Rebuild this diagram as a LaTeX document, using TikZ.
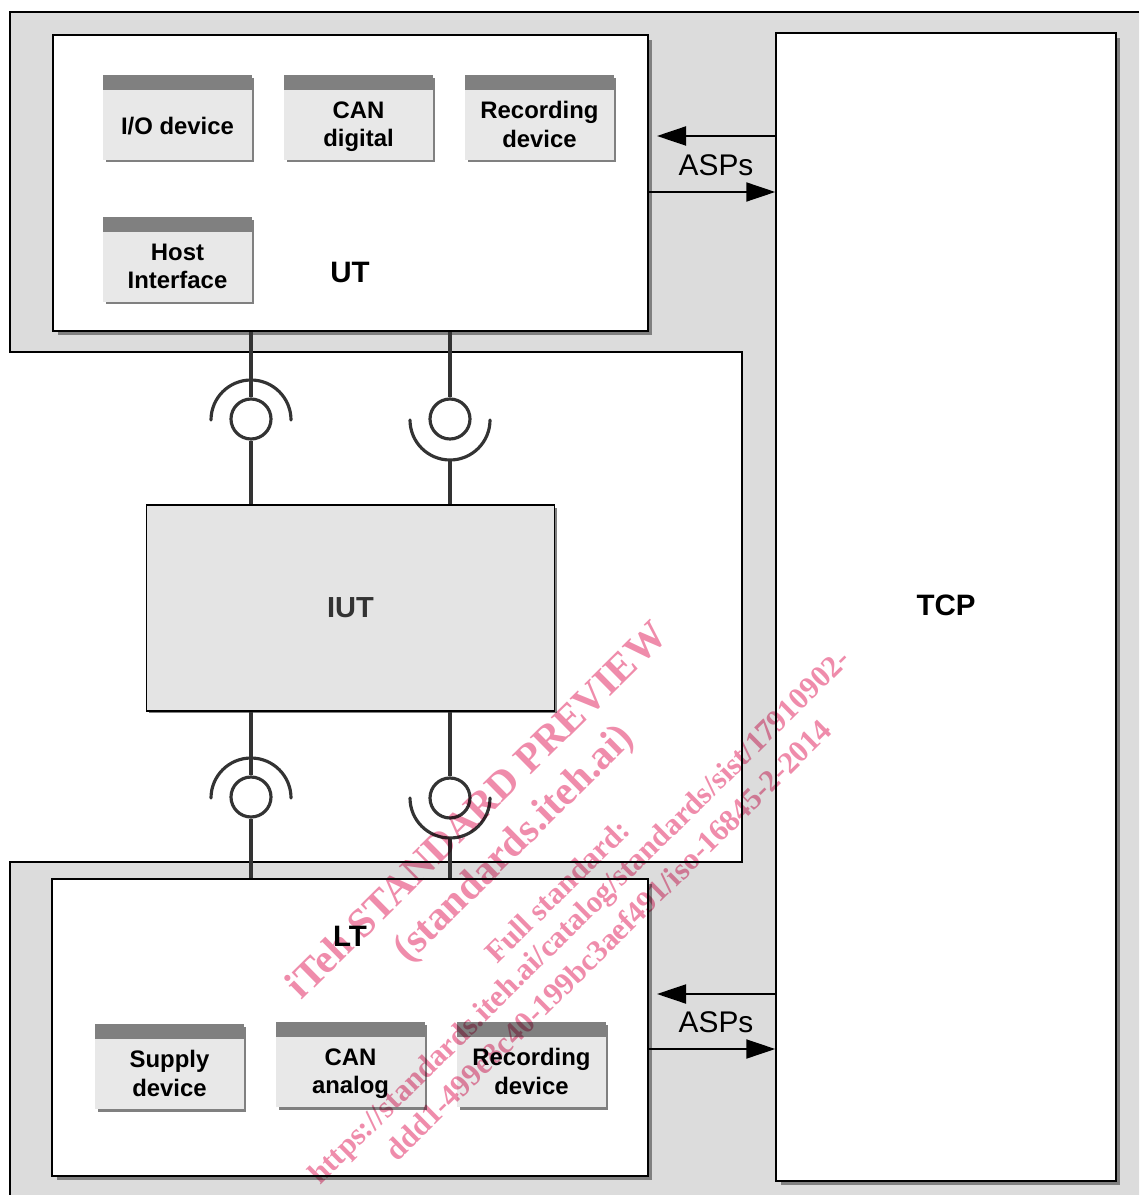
\documentclass[tikz,border=0pt]{standalone}
\usepackage{fontspec}
\setmainfont{Liberation Sans}
\newfontfamily\markfont{Liberation Serif}
\usepackage{tikz}
\usetikzlibrary{positioning, arrows.meta, shadows}

\definecolor{zonegrey}{HTML}{DCDCDC}
\definecolor{devgrey}{HTML}{E8E8E8}
\definecolor{iutgrey}{HTML}{E4E4E4}
\definecolor{headgrey}{HTML}{808080}
\definecolor{wiregrey}{HTML}{333333}
\definecolor{markpink}{HTML}{EF8CAB}

\begin{document}
\begin{tikzpicture}[
    x=0.02cm, y=-0.02cm,
    zone/.style={draw=black, line width=1.5pt},
    tester/.style={draw=black, fill=white, line width=0.9pt, inner sep=0pt,
                   drop shadow={shadow xshift=0.09cm, shadow yshift=-0.09cm, fill=headgrey, opacity=1}},
    iutbox/.style={draw=black, fill=iutgrey, line width=0.6pt, inner sep=0pt,
                   minimum width=8.18cm, minimum height=4.12cm, text=wiregrey, font=\fontsize{16.5}{20}\selectfont\bfseries,
                   drop shadow={shadow xshift=0.05cm, shadow yshift=-0.05cm, fill=headgrey, opacity=1}},
    device/.style={fill=devgrey, inner sep=0pt, minimum width=2.98cm, minimum height=1.7cm,
                   drop shadow={shadow xshift=0.05cm, shadow yshift=-0.05cm, fill=headgrey, opacity=1}},
    devhead/.style={fill=headgrey, inner sep=0pt, minimum width=2.98cm, minimum height=0.3cm},
    devtext/.style={inner sep=0pt, align=center, font=\fontsize{13.6}{16.2}\selectfont\bfseries,
                    execute at begin node=\strut, execute at end node=\strut},
    title/.style={font=\fontsize{16.8}{20}\selectfont\bfseries, inner sep=0pt},
    socket/.style={circle, draw=wiregrey, line width=1.8pt, fill=white, inner sep=0pt, minimum size=0.8cm},
    wire/.style={draw=wiregrey, line width=1.8pt},
    asp/.style={-{Triangle[length=5.8mm, width=3.8mm]}, draw=black, line width=1.1pt},
    asplabel/.style={font=\fontsize{17}{20}\selectfont, inner sep=0pt},
    wmark/.style={text=markpink, rotate=44.6, inner sep=0pt, font=\markfont\bfseries\fontsize{17.5}{21}\selectfont},
    wmarkbig/.style={wmark, font=\markfont\bfseries\fontsize{23.3}{28}\selectfont}
]
\useasboundingbox (0,0) rectangle (1139,1195);
% grey area round the iut
\fill[zonegrey] (10,12) -- (1139,12) -- (1139,1195) -- (10,1195) -- (10,862) -- (742,862) -- (742,352) -- (10,352) -- cycle;
\draw[zone] (1139,12) -- (10,12) -- (10,352) -- (742,352) -- (742,862) -- (10,862) -- (10,1195);

\node[tester, minimum width=11.9cm, minimum height=5.92cm] (ut) at (350.5,183) {};
\node[tester, minimum width=6.8cm, minimum height=22.96cm] (tcp) at (946,607) {};
\node[iutbox] (iut) at (350.5,608) {IUT};
\node[tester, minimum width=11.92cm, minimum height=5.94cm] (lt) at (350,1027.5) {};
\node[title] (utlabel) at (350,272) {UT};
\node[title] (ltlabel) at (350,936) {LT};
\node[title] (tcplabel) at (946,605) {TCP};

\foreach \n/\x/\y/\t in {io/177.5/125/{I/O device}, digital/358.5/125/{CAN\\digital}, recut/539.5/125/{Recording\\device},
                         host/177.5/267/{Host\\Interface}, supply/169.5/1074/{Supply\\device},
                         analog/350.5/1072/{CAN\\analog}, reclt/531.5/1072/{Recording\\device}}{
  \node[device] (\n) at (\x,\y-7.5) {};
  \node[devhead, anchor=north] (\n head) at (\n.north) {};
  \node[devtext] (\n text) at (\x,\y+3.5) {\t};
}

% sockets
\node[socket] (upa) at (251,419) {};
\node[socket] (upb) at (450,419) {};
\node[socket] (lowa) at (251,797) {};
\node[socket] (lowb) at (450,798) {};
\draw[wire, line cap=round] (211,420) arc (180:360:40);
\draw[wire, line cap=round] (410,420) arc (180:0:40) coordinate[pos=0.5] (upbcup);
\draw[wire, line cap=round] (211,798) arc (180:360:40);
\draw[wire, line cap=round] (410,798) arc (180:0:40) coordinate[pos=0.5] (lowbcup);

\draw[wire] (ut.south -| upa) -- (upa);
\draw[wire] (upa) -- (iut.north -| upa);
\draw[wire] (ut.south -| upb) -- (upb);
\draw[wire] (upbcup) -- (iut.north -| upb);
\draw[wire] (iut.south -| lowa) -- (lowa);
\draw[wire] (lowa) -- (lt.north -| lowa);
\draw[wire] (iut.south -| lowb) -- (lowb);
\draw[wire] (lowbcup) -- (lt.north -| lowb);

% asps
\coordinate (utin) at (657,136);
\coordinate (utout) at (648,192);
\coordinate (ltin) at (657,994);
\coordinate (ltout) at (648,1049);
\draw[asp] (tcp.west |- utin) -- (utin);
\draw[asp] (ut.east |- utout) -- (tcp.west |- utout);
\draw[asp] (tcp.west |- ltin) -- (ltin);
\draw[asp] (lt.east |- ltout) -- (tcp.west |- ltout);
\node[asplabel] (aspup) at (716,165) {ASPs};
\node[asplabel] (asplow) at (716,1022) {ASPs};

\begin{scope}[blend mode=multiply]
\node[wmarkbig] (mark1) at (476,809.5) {iTeh STANDARD PREVIEW};
\node[wmarkbig] (mark2) at (515,845) {(standards.iteh.ai)};
\node[wmark] (mark3) at (557,891) {Full standard:};
\node[wmark] (mark4) at (581,918) {https://standards.iteh.ai/catalog/standards/sist/17910902-};
\node[wmark] (mark5) at (608,940) {ddd1-499e8c40-199bc3aef491/iso-16845-2-2014};
\end{scope}
\end{tikzpicture}
\end{document}
